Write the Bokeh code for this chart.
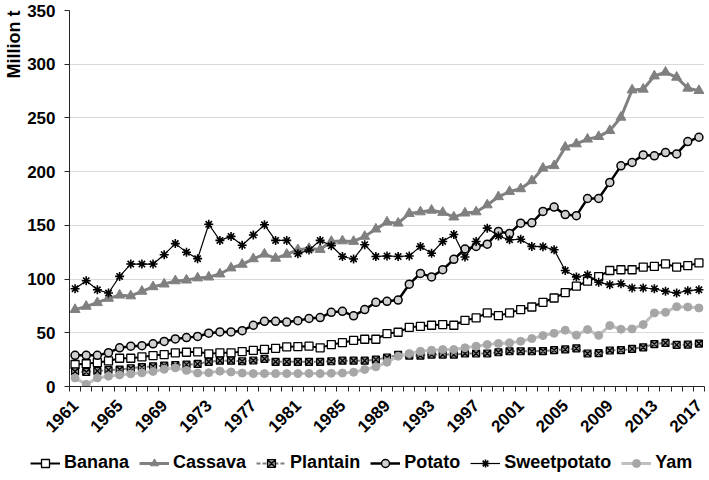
import math
from bokeh.plotting import figure
from bokeh.layouts import column
from bokeh.models import Range1d, FixedTicker, Legend, LegendItem, Title
from bokeh.embed import file_html
from bokeh.resources import INLINE

years = list(range(1961, 2018))

banana = [20.5, 21.2, 22.3, 23.8, 26.3, 26.3, 27.5, 28.8, 29.7, 31.3,
          31.9, 32.3, 30.4, 31.3, 31.3, 32.5, 33.6, 34.5, 35.5, 36.9,
          37.2, 37.5, 36.0, 39.0, 40.8, 43.0, 44.0, 44.0, 49.3, 50.5,
          55.1, 56.0, 57.0, 57.6, 57.0, 61.6, 63.8, 68.5, 66.0, 68.5,
          71.6, 74.0, 78.4, 82.4, 87.4, 93.5, 98.0, 102.3, 108.0, 108.7,
          108.7, 111.2, 111.8, 114.1, 111.2, 112.5, 115.0]

cassava = [71.6, 74.6, 78.0, 82.0, 85.0, 84.3, 88.6, 92.8, 95.3, 98.3,
           99.0, 101.0, 101.8, 104.7, 110.3, 113.7, 118.8, 123.2, 119.3, 123.0,
           127.3, 128.5, 127.5, 135.0, 135.5, 135.0, 139.7, 146.5, 153.0, 152.0,
           161.0, 162.5, 164.0, 162.0, 157.7, 161.4, 162.5, 169.0, 176.6, 181.5,
           184.0, 191.5, 203.2, 205.5, 222.8, 225.8, 230.2, 232.6, 238.2, 250.6,
           276.0, 276.7, 289.0, 292.5, 287.8, 277.6, 275.4]

plantain = [14.0, 13.5, 14.5, 15.5, 15.8, 17.0, 18.0, 18.8, 19.5, 20.0,
            20.4, 21.0, 23.0, 24.0, 24.0, 23.5, 24.2, 25.8, 23.0, 23.0,
            23.0, 23.0, 23.0, 23.5, 24.0, 24.0, 24.0, 25.0, 27.0, 29.5,
            28.8, 28.8, 29.7, 29.7, 29.7, 30.7, 30.7, 30.7, 31.9, 32.8,
            32.8, 32.8, 33.0, 33.8, 34.5, 35.5, 30.7, 31.0, 33.5, 33.8,
            35.0, 36.5, 39.5, 40.6, 38.8, 39.0, 40.0]

potato = [29.0, 29.0, 29.0, 31.5, 36.0, 37.5, 38.0, 39.7, 42.0, 44.3,
          45.5, 46.6, 49.6, 50.8, 50.8, 52.0, 57.0, 60.7, 60.7, 60.0,
          61.3, 63.3, 64.2, 69.0, 70.0, 65.8, 71.6, 78.4, 79.3, 80.5,
          95.2, 105.3, 102.0, 108.7, 118.4, 128.0, 130.4, 132.5, 144.3, 142.5,
          152.0, 152.4, 163.0, 167.0, 160.0, 159.0, 175.0, 175.0, 190.0, 205.4,
          208.5, 215.6, 214.7, 217.8, 216.5, 228.0, 232.0]

sweetpotato = [91.0, 98.5, 90.0, 87.0, 102.5, 114.0, 114.0, 114.0, 122.7, 133.0,
               125.0, 119.0, 151.0, 136.0, 139.7, 131.5, 141.0, 150.5, 136.0, 136.0,
               123.6, 127.0, 136.0, 131.0, 121.0, 118.7, 132.0, 121.0, 121.5, 121.0,
               121.5, 130.4, 124.0, 135.0, 141.5, 120.5, 135.0, 147.4, 140.0, 136.6,
               137.0, 130.4, 130.2, 127.3, 108.0, 102.0, 104.0, 97.0, 94.8, 95.7,
               91.7, 91.7, 91.0, 88.6, 87.0, 89.2, 90.0]

yam = [8.0, 2.0, 8.0, 9.6, 10.8, 11.8, 12.7, 14.0, 16.0, 17.4,
       15.0, 12.5, 12.8, 14.3, 13.5, 12.5, 12.0, 12.0, 12.0, 12.0,
       12.0, 12.2, 12.0, 12.3, 12.5, 13.3, 15.8, 18.3, 22.6, 28.2,
       30.7, 32.8, 33.8, 34.4, 34.4, 36.0, 37.5, 39.0, 40.0, 40.6,
       42.1, 44.6, 47.4, 49.5, 52.4, 47.8, 53.0, 47.6, 56.7, 53.3,
       53.6, 57.6, 68.5, 69.0, 74.3, 74.0, 73.1]

series_names = ["Banana", "Cassava", "Plantain", "Potato", "Sweetpotato", "Yam"]
series_values = [banana, cassava, plantain, potato, sweetpotato, yam]

y_ticks = [0, 50, 100, 150, 200, 250, 300, 350]
x_label_years = list(range(1961, 2018, 4))

FONT = "Liberation Sans"
AXIS_COLOR = "#262626"

# style per series: line color, line width, dash, marker, size, fill, marker line, marker line width
styles = [
    ("black", 2, "solid", "square", 8, "white", "black", 1.3),
    ("#808080", 3, "solid", "triangle", 10, "#808080", "#808080", 1),
    ("#7f7f7f", 2, "4 2", "square_x", 7, "#8c8c8c", "black", 1.2),
    ("black", 2.5, "solid", "circle", 8, "#d0d0d0", "black", 1.5),
    ("black", 1.2, "solid", "asterisk", 9, None, "black", 1.6),
    ("#c0c0c0", 3, "solid", "circle", 8, "#a6a6a6", "#a6a6a6", 1),
]

p = figure(width=709, height=440, output_backend="svg", toolbar_location=None,
           x_range=Range1d(1960.5, 2017.5), y_range=Range1d(0, 350),
           min_border_left=68, min_border_right=5, min_border_top=10,
           min_border_bottom=53)
p.frame_align = False
p.outline_line_color = None
p.xgrid.visible = False
p.ygrid.grid_line_color = "#d9d9d9"
p.ygrid.grid_line_width = 1

# y axis
p.yaxis.ticker = FixedTicker(ticks=y_ticks)
p.yaxis.major_label_text_font = FONT
p.yaxis.major_label_text_font_style = "bold"
p.yaxis.major_label_text_font_size = "17px"
p.yaxis.major_label_text_color = "black"
p.yaxis.major_tick_out = 5
p.yaxis.major_tick_in = 0
p.yaxis.minor_tick_line_color = None
p.yaxis.major_label_standoff = 9
p.yaxis.axis_line_color = AXIS_COLOR
p.yaxis.major_tick_line_color = AXIS_COLOR

# x axis
p.xaxis.ticker = FixedTicker(ticks=x_label_years,
                             minor_ticks=[y - 0.5 for y in years] + [2017.5])
p.xaxis.major_tick_line_color = None
p.xaxis.major_tick_out = 0
p.xaxis.major_tick_in = 0
p.xaxis.minor_tick_out = 5
p.xaxis.minor_tick_in = 0
p.xaxis.minor_tick_line_color = AXIS_COLOR
p.xaxis.axis_line_color = AXIS_COLOR
p.xaxis.major_label_orientation = math.pi / 4
p.xaxis.major_label_text_font = FONT
p.xaxis.major_label_text_font_style = "bold"
p.xaxis.major_label_text_font_size = "17px"
p.xaxis.major_label_text_color = "black"
p.xaxis.major_label_standoff = 11

ytitle = Title(text="Million t", align="right", standoff=2,
               text_font=FONT, text_font_style="bold",
               text_font_size="18px", text_color="black")
p.add_layout(ytitle, "left")

for vals, st in zip(series_values, styles):
    lc, lw, dash, mk, sz, fc, mlc, mlw = st
    p.line(years, vals, line_color=lc, line_width=lw, line_dash=dash)
    p.scatter(years, vals, marker=mk, size=sz, fill_color=fc,
              line_color=mlc, line_width=mlw)

# legend strip below the chart (same data, drawn out of view; only the legend shows)
leg = figure(width=709, height=40, output_backend="svg", toolbar_location=None,
             x_range=Range1d(1960.5, 2017.5), y_range=Range1d(-1000, -900),
             x_axis_type=None, y_axis_type=None,
             min_border_left=0, min_border_right=0, min_border_top=0,
             min_border_bottom=0)
leg.frame_align = False
leg.grid.visible = False
leg.outline_line_color = None

items = []
for name, vals, st in zip(series_names, series_values, styles):
    lc, lw, dash, mk, sz, fc, mlc, mlw = st
    lr = leg.line(years, vals, line_color=lc, line_width=lw, line_dash=dash)
    sr = leg.scatter(years, vals, marker=mk, size=sz, fill_color=fc,
                     line_color=mlc, line_width=mlw)
    items.append(LegendItem(label=name, renderers=[lr, sr]))

legend = Legend(items=items, location=(30, 7), orientation="horizontal",
                glyph_width=30, glyph_height=20, label_standoff=4, spacing=10,
                padding=0, margin=0, border_line_color=None,
                background_fill_alpha=0,
                label_text_font=FONT, label_text_font_style="bold",
                label_text_font_size="18px", label_text_color="black")
leg.add_layout(legend)

layout = column(p, leg, spacing=0)
open("out.html", "w").write(file_html(layout, INLINE))
